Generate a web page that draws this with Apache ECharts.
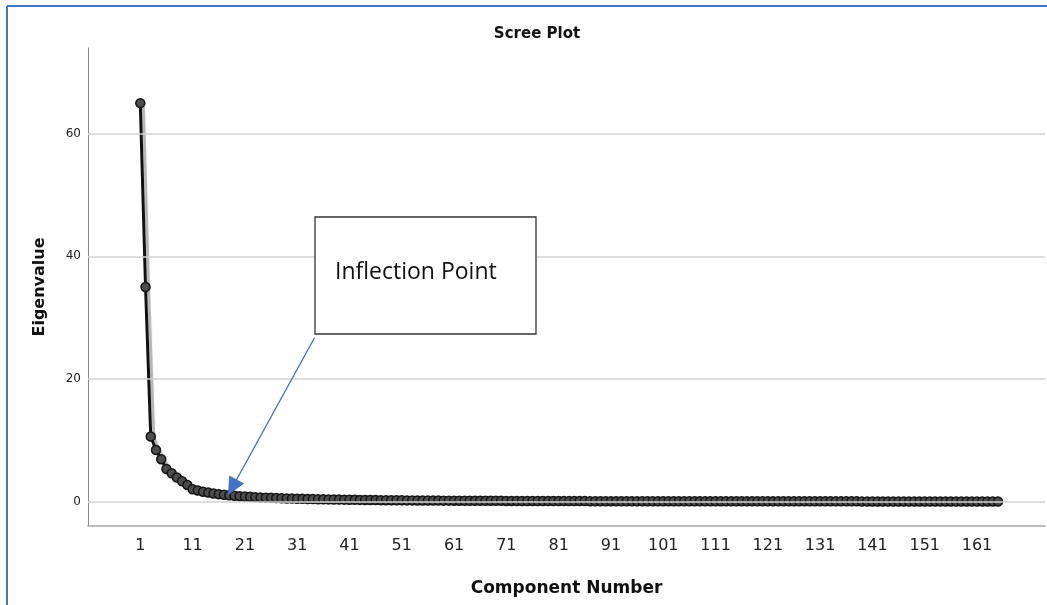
<!DOCTYPE html>
<html>
<head>
<meta charset="utf-8">
<script src="https://cdn.jsdelivr.net/npm/echarts@6/dist/echarts.min.js"></script>
<style>
  html, body { margin: 0; padding: 0; background: #fff; }
  #chart { width: 1047px; height: 605px; }
</style>
</head>
<body>
<div id="chart"></div>
<script>
// Eigenvalues of the 165 extracted components, in order
const eigenvalues = [
  65.0, 35.0, 10.6, 8.4, 6.9, 5.3, 4.6, 3.9, 3.3, 2.7,
  2.0, 1.8, 1.6, 1.45, 1.3, 1.2, 1.1, 1.0, 0.93, 0.87,
  0.81, 0.76, 0.71, 0.67, 0.63, 0.59, 0.56, 0.53, 0.50, 0.47,
  0.45, 0.43, 0.41, 0.39, 0.37, 0.35, 0.34, 0.32, 0.31, 0.30,
  0.28, 0.27, 0.26, 0.25, 0.24, 0.23, 0.22, 0.21, 0.21, 0.20,
  0.19, 0.18, 0.18, 0.17, 0.16, 0.16, 0.15, 0.15, 0.14, 0.14,
  0.13, 0.13, 0.12, 0.12, 0.11, 0.11, 0.11, 0.10, 0.10, 0.10,
  0.09, 0.09, 0.09, 0.08, 0.08, 0.08, 0.08, 0.07, 0.07, 0.07,
  0.07, 0.06, 0.06, 0.06, 0.06, 0.06, 0.05, 0.05, 0.05, 0.05,
  0.05, 0.05, 0.04, 0.04, 0.04, 0.04, 0.04, 0.04, 0.04, 0.03,
  0.03, 0.03, 0.03, 0.03, 0.03, 0.03, 0.03, 0.03, 0.03, 0.03,
  0.03, 0.03, 0.03, 0.03, 0.03, 0.02, 0.02, 0.02, 0.02, 0.02,
  0.02, 0.02, 0.02, 0.02, 0.02, 0.02, 0.02, 0.02, 0.02, 0.02,
  0.02, 0.02, 0.02, 0.02, 0.02, 0.02, 0.02, 0.02, 0.01, 0.01,
  0.01, 0.01, 0.01, 0.01, 0.01, 0.01, 0.01, 0.01, 0.01, 0.01,
  0.01, 0.01, 0.01, 0.01, 0.01, 0.01, 0.01, 0.01, 0.01, 0.01,
  0.01, 0.01, 0.01, 0.01, 0.01
];

// Labelled component numbers on the horizontal axis
const xTickLabels = [1, 11, 21, 31, 41, 51, 61, 71, 81, 91, 101, 111, 121, 131, 141, 151, 161];
// Labelled eigenvalue levels (also drawn as reference lines)
const yTickLabels = [0, 20, 40, 60];

// Annotation arrow: from the callout box to the bend of the curve (component, eigenvalue)
const arrowFrom = [34.3, 26.7];
const arrowTo = [18.6, 2.3];

const points = eigenvalues.map((v, i) => [i + 1, v]);

const chart = echarts.init(document.getElementById('chart'), null, { renderer: 'canvas' });

chart.setOption({
  animation: false,
  backgroundColor: '#ffffff',
  title: {
    text: 'Scree Plot',
    left: 532,
    textAlign: 'center',
    top: 22,
    textStyle: { fontFamily: 'DejaVu Sans', fontWeight: 'bold', fontSize: 15, color: '#111' }
  },
  grid: { left: 88, right: 2, top: 48, bottom: 79, containLabel: false },
  xAxis: {
    type: 'value',
    min: -9,
    max: 174,
    name: 'Component Number',
    nameLocation: 'middle',
    nameGap: 54,
    nameTextStyle: { fontFamily: 'DejaVu Sans', fontWeight: 'bold', fontSize: 17, color: '#111' },
    axisLine: { show: true, onZero: false, lineStyle: { color: '#a8a8a8', width: 1.5 } },
    axisTick: { show: false },
    splitLine: { show: false },
    axisLabel: {
      customValues: xTickLabels,
      margin: 12,
      fontFamily: 'DejaVu Sans',
      fontSize: 16,
      color: '#222'
    }
  },
  yAxis: {
    type: 'value',
    min: -4,
    max: 74,
    name: 'Eigenvalue',
    nameLocation: 'middle',
    nameGap: 40,
    nameRotate: 90,
    nameTextStyle: { fontFamily: 'DejaVu Sans', fontWeight: 'bold', fontSize: 16, color: '#111' },
    axisLine: { show: true, onZero: false, lineStyle: { color: '#8a8a8a', width: 1 } },
    axisTick: { show: false },
    splitLine: { show: false },
    axisLabel: {
      customValues: yTickLabels,
      margin: 7,
      fontFamily: 'DejaVu Sans',
      fontSize: 12,
      color: '#222'
    }
  },
  series: [
    {
      // reference lines at the labelled eigenvalue levels, kept beneath the curve
      type: 'line',
      z: 1,
      data: [],
      markLine: {
        silent: true,
        symbol: ['none', 'none'],
        label: { show: false },
        lineStyle: { color: '#d2d2d2', width: 1.5, type: 'solid' },
        data: yTickLabels.map(v => ({ yAxis: v }))
      }
    },
    {
      name: 'Eigenvalue',
      type: 'line',
      z: 3,
      data: points,
      symbol: 'circle',
      symbolSize: 9,
      lineStyle: {
        color: '#111',
        width: 3,
        shadowColor: 'rgba(0,0,0,0.3)',
        shadowOffsetX: 3,
        shadowOffsetY: 0,
        shadowBlur: 1
      },
      itemStyle: { color: '#4d4d4d', borderColor: '#151515', borderWidth: 1.5 },
      markLine: {
        silent: true,
        symbol: ['none', 'none'],
        label: { show: false },
        lineStyle: { color: '#4472C4', width: 1.2, type: 'solid' },
        data: [
          [
            { coord: arrowFrom, symbol: 'none' },
            { coord: arrowTo, symbol: 'triangle', symbolSize: [17, 18] }
          ]
        ]
      }
    }
  ],
  graphic: [
    {
      // frame edges around the figure
      type: 'line',
      shape: { x1: 7, y1: 6, x2: 1047, y2: 6 },
      style: { stroke: '#4472C4', lineWidth: 2 }
    },
    {
      type: 'line',
      shape: { x1: 7, y1: 6, x2: 7, y2: 605 },
      style: { stroke: '#4472C4', lineWidth: 2 }
    },
    {
      // callout box
      type: 'rect',
      z: 10,
      shape: { x: 315, y: 217, width: 221, height: 117 },
      style: { fill: '#ffffff', stroke: '#333333', lineWidth: 1.3 }
    },
    {
      type: 'text',
      z: 11,
      x: 335,
      y: 272,
      style: {
        text: 'Inflection Point',
        fontFamily: 'Open Sans',
        fontSize: 23,
        fill: '#111',
        verticalAlign: 'middle'
      }
    }
  ]
});
</script>
</body>
</html>
